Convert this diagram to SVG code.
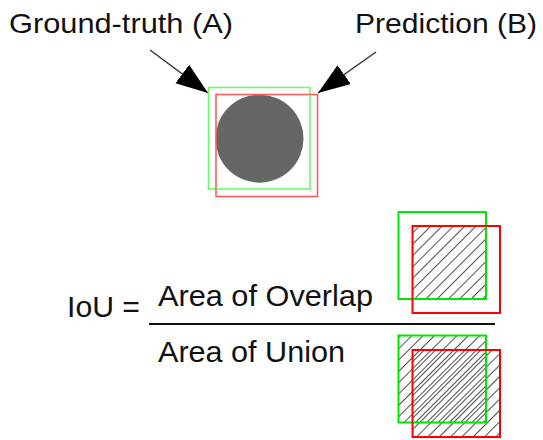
<svg xmlns="http://www.w3.org/2000/svg" width="543" height="440" viewBox="0 0 543 440">
  <style>
    .lbl { font-family: "Liberation Sans", Arial, sans-serif; fill: #111; }
    .hdr { font-size: 28px; }
    .frm { font-size: 29px; }
    .conn { stroke: #333; stroke-width: 1.5; fill: none; }
    .gA { fill: none; stroke: #66ff66; stroke-width: 1.6; }
    .rB { fill: none; stroke: #ff5c5c; stroke-width: 1.6; }
    .g { fill: none; stroke: #00e600; stroke-width: 2; }
    .r { fill: none; stroke: #ff0000; stroke-width: 2; }
  </style>
  <defs>
    <marker id="ah" markerUnits="userSpaceOnUse" markerWidth="34" markerHeight="24" refX="32" refY="11.5" orient="auto">
      <path d="M0,0 L32,11.5 L0,23 z" fill="#000"/>
    </marker>
    <pattern id="hatch" patternUnits="userSpaceOnUse" width="8" height="8" patternTransform="rotate(45)">
      <line x1="0" y1="0" x2="0" y2="8" stroke="#222" stroke-width="1.6"/>
    </pattern>
    <pattern id="hatch2" patternUnits="userSpaceOnUse" width="8" height="8" patternTransform="rotate(45) translate(3,0)">
      <line x1="0" y1="0" x2="0" y2="8" stroke="#222" stroke-width="1.6"/>
    </pattern>
  </defs>

  <rect width="543" height="440" fill="#fff"/>

  <g id="label-groundtruth">
    <text class="lbl hdr" x="9" y="33" textLength="224" lengthAdjust="spacingAndGlyphs">Ground-truth (A)</text>
  </g>
  <g id="label-prediction">
    <text class="lbl hdr" x="355" y="33" textLength="182" lengthAdjust="spacingAndGlyphs">Prediction (B)</text>
  </g>

  <g id="connectors">
    <line class="conn" x1="150" y1="50" x2="208" y2="93" marker-end="url(#ah)"/>
    <line class="conn" x1="376" y1="52" x2="318" y2="93" marker-end="url(#ah)"/>
  </g>

  <g id="object-example">
    <circle cx="259.5" cy="138.7" r="44" fill="#666"/>
    <rect class="gA" x="208.5" y="87.5" width="101.5" height="101.5"/>
    <rect class="rB" x="216" y="94.5" width="101.5" height="102"/>
  </g>

  <g id="formula">
    <text class="lbl frm" x="67" y="317" textLength="73" lengthAdjust="spacingAndGlyphs">IoU =</text>
    <text class="lbl frm" x="158" y="306" textLength="215" lengthAdjust="spacingAndGlyphs">Area of Overlap</text>
    <line x1="149" y1="324" x2="495" y2="324" stroke="#111" stroke-width="2"/>
    <text class="lbl frm" x="158" y="362" textLength="187" lengthAdjust="spacingAndGlyphs">Area of Union</text>
  </g>

  <g id="overlap-icon">
    <rect x="412.5" y="226" width="73.5" height="73" fill="url(#hatch)" stroke="#6a6aa0" stroke-width="1"/>
    <rect class="g" x="398.5" y="212" width="87.5" height="87"/>
    <rect class="r" x="412.5" y="226" width="87.5" height="87"/>
  </g>

  <g id="union-icon">
    <rect x="398.5" y="335.5" width="87.5" height="87" fill="url(#hatch)"/>
    <rect x="412.5" y="350" width="87.5" height="87" fill="url(#hatch2)"/>
    <rect class="g" x="398.5" y="335.5" width="87.5" height="87"/>
    <rect class="r" x="412.5" y="350" width="87.5" height="87"/>
  </g>
</svg>
